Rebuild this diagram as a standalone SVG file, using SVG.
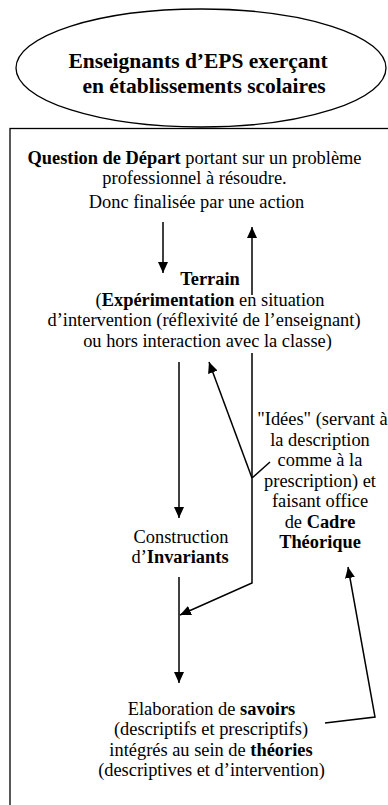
<svg xmlns="http://www.w3.org/2000/svg" width="388" height="805" viewBox="0 0 388 805">
<defs>
<marker id="ah" viewBox="0 0 11 10" refX="11" refY="5" markerWidth="11" markerHeight="10" markerUnits="userSpaceOnUse" orient="auto">
<path d="M0,0 L11,5 L0,10 z" fill="#000"/>
</marker>
<style>
text{font-family:"Liberation Serif","Times New Roman",serif;fill:#000;text-anchor:middle}
.t{font-size:21.5px;font-weight:bold}
.n{font-size:18.4px}
.b{font-weight:bold}
.ln{fill:none;stroke:#000;stroke-width:1.5}
.ar{fill:none;stroke:#000;stroke-width:1.5;marker-end:url(#ah)}
</style>
</defs>
<rect width="388" height="805" fill="#fff"/>
<g id="ellipse-node">
<ellipse cx="201" cy="68" rx="185" ry="59" fill="#fff" stroke="#000" stroke-width="1.3"/>
<text class="t" x="198" y="68">Enseignants d’EPS exerçant</text>
<text class="t" x="204" y="93">en établissements scolaires</text>
</g>
<g id="frame">
<rect x="10" y="128.5" width="400" height="700" fill="none" stroke="#000" stroke-width="1.3"/>
</g>
<g id="question">
<text class="n" x="194.5" y="164"><tspan class="b">Question de Départ</tspan> portant sur un problème</text>
<text class="n" x="194.5" y="184">professionnel à résoudre.</text>
<text class="n" x="196.5" y="208">Donc finalisée par une action</text>
</g>
<g id="terrain">
<text class="n b" x="210" y="285">Terrain</text>
<text class="n" x="210" y="306">(<tspan class="b">Expérimentation</tspan> en situation</text>
<text class="n" x="204" y="326">d’intervention (réflexivité de l’enseignant)</text>
<text class="n" x="207.5" y="347">ou hors interaction avec la classe)</text>
</g>
<g id="idees">
<text class="n" x="322.5" y="425">"Idées" (servant à</text>
<text class="n" x="320" y="446">la description</text>
<text class="n" x="320" y="466">comme à la</text>
<text class="n" x="320" y="487">prescription) et</text>
<text class="n" x="320" y="507">faisant office</text>
<text class="n" x="320" y="528">de <tspan class="b">Cadre</tspan></text>
<text class="n b" x="320" y="548">Théorique</text>
</g>
<g id="invariants">
<text class="n" x="181" y="543">Construction</text>
<text class="n" x="180" y="563">d’<tspan class="b">Invariants</tspan></text>
</g>
<g id="savoirs">
<text class="n" x="211.5" y="715">Elaboration de <tspan class="b">savoirs</tspan></text>
<text class="n" x="211" y="735">(descriptifs et prescriptifs)</text>
<text class="n" x="211" y="756">intégrés au sein de <tspan class="b">théories</tspan></text>
<text class="n" x="211.5" y="776">(descriptives et d’intervention)</text>
</g>
<g id="connectors">
<line class="ar" x1="163" y1="222" x2="163" y2="273"/>
<line class="ar" x1="252" y1="295" x2="252" y2="227"/>
<line class="ar" x1="179" y1="362" x2="179" y2="518"/>
<line class="ar" x1="252" y1="478" x2="209" y2="362"/>
<polyline class="ar" points="252,353 252,583 180,615"/>
<line class="ln" x1="252" y1="478" x2="270" y2="462"/>
<line class="ar" x1="179" y1="577" x2="179" y2="683"/>
<polyline class="ar" points="325,723 375,717 348,567"/>
</g>
</svg>
